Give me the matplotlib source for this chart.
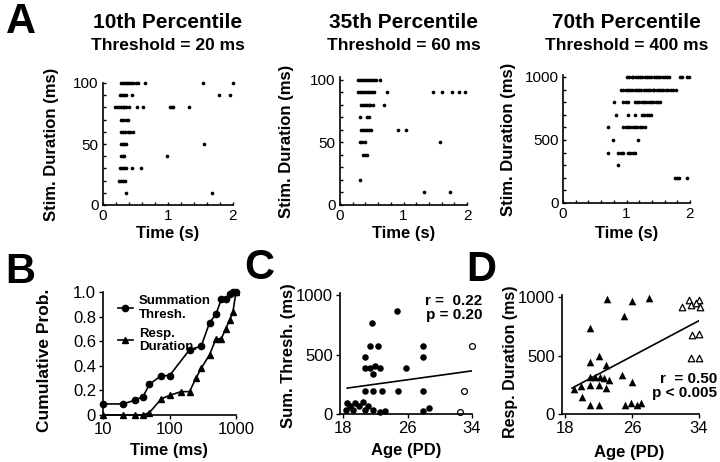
import numpy as np
import matplotlib
matplotlib.use('Agg')
import matplotlib.pyplot as plt
from matplotlib.ticker import FixedLocator, MultipleLocator, NullFormatter

plt.rcParams['font.family'] = ['Liberation Sans', 'DejaVu Sans']

# --- panel A raster data: stimulus duration row -> response times (s)
a1_rows = {
    100: [0.28, 0.31, 0.34, 0.37, 0.40, 0.43, 0.46, 0.50, 0.54, 0.64, 1.54, 2.0],
    90: [0.26, 0.29, 0.33, 0.36, 0.44, 1.79, 1.96],
    80: [0.18, 0.21, 0.24, 0.27, 0.30, 0.33, 0.36, 0.40, 0.52, 0.61, 1.03, 1.06, 1.08, 1.33],
    70: [0.28, 0.31, 0.35, 0.38],
    60: [0.28, 0.31, 0.34, 0.38, 0.42, 0.46],
    50: [0.27, 0.30, 0.33, 0.36, 1.55],
    40: [0.27, 0.30, 0.33, 0.99],
    30: [0.26, 0.29, 0.33, 0.36, 0.44, 0.58],
    20: [0.25, 0.28, 0.31, 0.34],
    10: [0.35, 1.68],
}
a2_rows = {
    100: [0.29, 0.32, 0.35, 0.38, 0.41, 0.44, 0.47, 0.50, 0.53, 0.56, 0.63],
    90: [0.29, 0.32, 0.35, 0.38, 0.41, 0.44, 0.47, 0.50, 0.54, 0.74, 1.46, 1.61, 1.77, 1.87, 1.97],
    80: [0.33, 0.36, 0.39, 0.42, 0.45, 0.48, 0.52, 0.69],
    70: [0.32, 0.42, 0.45],
    60: [0.33, 0.36, 0.39, 0.42, 0.45, 0.49, 0.91, 1.04],
    50: [0.32, 0.35, 0.40, 1.58],
    40: [0.37, 0.39, 0.42],
    20: [0.32],
    10: [1.32, 1.73],
}
a3_rows = {
    1000: [1.01, 1.04, 1.08, 1.11, 1.15, 1.18, 1.22, 1.25, 1.29, 1.32, 1.36, 1.39, 1.43, 1.46,
           1.50, 1.53, 1.57, 1.60, 1.64, 1.67, 1.84, 1.88, 1.95, 1.99],
    900: [0.92, 0.95, 0.99, 1.02, 1.06, 1.09, 1.13, 1.16, 1.20, 1.23, 1.27, 1.30, 1.34, 1.37,
          1.41, 1.44, 1.48, 1.51, 1.55, 1.58, 1.62, 1.66, 1.70, 1.74, 1.78],
    800: [0.81, 0.95, 0.99, 1.03, 1.13, 1.17, 1.20, 1.24, 1.28, 1.31, 1.35, 1.39, 1.42, 1.46, 1.50, 1.53],
    700: [0.84, 1.03, 1.13, 1.24, 1.28, 1.32, 1.36, 1.39],
    600: [0.71, 0.95, 0.99, 1.03, 1.06, 1.10, 1.13, 1.17, 1.21, 1.25, 1.29],
    500: [0.79, 1.18],
    400: [0.71, 0.87, 0.91, 0.95, 1.03, 1.06, 1.10, 1.13],
    300: [0.86],
    200: [1.76, 1.79, 1.82, 1.96],
}
a_titles = ['10th Percentile', '35th Percentile', '70th Percentile']
a_thresh = ['Threshold = 20 ms', 'Threshold = 60 ms', 'Threshold = 400 ms']

# --- panel B cumulative distributions
b_time = [10, 20, 30, 40, 50, 75, 100, 200, 300, 400, 500, 600, 700, 800, 900, 1000]
b_sum = [0.09, 0.09, 0.12, 0.15, 0.25, 0.32, 0.32, 0.53, 0.56, 0.75, 0.82, 0.94, 0.94, 0.98, 1.0, 1.0]
b_resp_time = [10, 20, 30, 40, 50, 75, 100, 150, 200, 250, 300, 400, 500, 600, 700, 800, 900, 1000]
b_resp = [0, 0, 0, 0, 0.02, 0.13, 0.16, 0.19, 0.19, 0.30, 0.38, 0.49, 0.62, 0.62, 0.70, 0.77, 0.84, 1.0]

# --- panel C summation threshold vs age
c_age = [18.5, 19.5, 20.5, 18.8, 19.9, 21.1, 18.4, 19.2, 20.7, 21.7, 22.6, 23.2,
         20.7, 21.7, 22.8, 24.8, 20.7, 20.7, 21.3, 21.95, 22.55, 21.7, 21.3, 22.3,
         21.6, 24.7, 25.8, 27.9, 27.9, 27.9, 27.9, 28.6]
c_thr = [92, 92, 100, 64, 64, 70, 30, 30, 36, 30, 13, 22,
         190, 190, 190, 190, 478, 386, 386, 405, 386, 335, 573, 573,
         768, 868, 386, 573, 478, 190, 22, 50]
c_open_age = [34.0, 33.05, 32.5]
c_open_thr = [573, 190, 13]
c_fit_x = [18.5, 34]
c_fit_y = [218, 363]

# --- panel D response duration vs age
d_age = [19.0, 19.9, 20.0, 20.9, 20.9, 21.0, 21.0, 21.0, 21.6, 22.0, 22.0, 22.0, 22.2,
         22.6, 22.9, 22.9, 23.0, 23.2, 25.0, 24.8, 25.2, 25.8, 26.0, 26.0, 26.6, 27.0, 28.0]
d_dur = [211, 240, 148, 734, 449, 320, 249, 77, 320, 497, 249, 77, 320,
         306, 420, 220, 983, 291, 840, 334, 77, 92, 971, 277, 77, 97, 991]
d_open_age = [32.8, 34.0, 32.0, 33.0, 33.6, 34.1, 33.2, 34.0, 33.0, 34.0]
d_open_dur = [977, 977, 920, 935, 950, 920, 680, 690, 477, 477]
d_fit_x = [18.8, 34]
d_fit_y = [222, 800]

W, H = 720, 462
fig = plt.figure(figsize=(W / 100, H / 100), dpi=100)


def add_ax(l, t, r, b):
    ax = fig.add_axes([l / W, 1 - b / H, (r - l) / W, (b - t) / H])
    for s in ['top', 'right']:
        ax.spines[s].set_visible(False)
    for s in ['left', 'bottom']:
        ax.spines[s].set_linewidth(1.2)
    return ax


def ftext(x, y, s, **kw):
    fig.text(x / W, 1 - y / H, s, **kw)


# panel A
a_boxes = [(103, 83, 233, 205), (340, 77, 467, 205), (563, 75, 690, 203)]
a_data = [a1_rows, a2_rows, a3_rows]
a_ymax = [100, 102, 1015]
a_ystep = [(50, 10), (50, 10), (500, 100)]
a_ylab_x = [52, 287, 509]
for i in range(3):
    ax = add_ax(*a_boxes[i])
    rows = a_data[i]
    for yv, ts in rows.items():
        ax.scatter(ts, [yv] * len(ts), s=7, c='black', linewidths=0, clip_on=False)
    ax.set_xlim(0, 2)
    ax.set_ylim(0, a_ymax[i])
    ax.xaxis.set_major_locator(FixedLocator([0, 1, 2]))
    ax.xaxis.set_minor_locator(MultipleLocator(0.2))
    ax.yaxis.set_major_locator(FixedLocator([0, a_ystep[i][0], 2 * a_ystep[i][0]]))
    ax.yaxis.set_minor_locator(MultipleLocator(a_ystep[i][1]))
    ax.tick_params(which='both', direction='in', length=2, width=1, labelsize=11, pad=3)
    l, t, r, b = a_boxes[i]
    cx = (l + r) / 2
    ftext(cx, 28, a_titles[i], fontsize=15, fontweight='bold', ha='center', va='baseline')
    ftext(cx, 50, a_thresh[i], fontsize=12.5, fontweight='bold', ha='center', va='baseline')
    ftext(cx, 234, 'Time (s)', fontsize=12, fontweight='bold', ha='center', va='center')
    ftext(a_ylab_x[i], (t + b) / 2, 'Stim. Duration (ms)', fontsize=12, fontweight='bold',
          ha='center', va='center', rotation=90)

ftext(6, 33, 'A', fontsize=30, fontweight='bold', va='baseline')

# panel B
ax = add_ax(103, 292, 236, 415)
ax.plot(b_time, b_sum, '-o', color='black', lw=1.2, ms=4.5, clip_on=False, label='Summation\nThresh.')
ax.plot(b_resp_time, b_resp, '-^', color='black', lw=1.2, ms=5, clip_on=False, label='Resp.\nDuration.')
ax.set_xscale('log')
ax.set_xlim(10, 1000)
ax.set_ylim(0, 1.0)
ax.xaxis.set_major_locator(FixedLocator([10, 100, 1000]))
ax.xaxis.set_major_formatter(plt.FixedFormatter(['10', '100', '1000']))
ax.xaxis.set_minor_formatter(NullFormatter())
ax.set_yticks([0, 0.2, 0.4, 0.6, 0.8, 1.0])
ax.set_yticklabels(['0', '0.2', '0.4', '0.6', '0.8', '1.0'])
ax.tick_params(which='major', direction='out', length=3, width=1, labelsize=12, pad=2)
ax.tick_params(which='minor', direction='out', length=0)
ax.legend(loc='upper left', bbox_to_anchor=(0.02, 1.07), frameon=False, handlelength=1.2,
          handletextpad=0.4, labelspacing=0.5, prop={'weight': 'bold', 'size': 9.5})
ftext(169, 451, 'Time (ms)', fontsize=12, fontweight='bold', ha='center', va='center')
ftext(45, 360, 'Cumulative Prob.', fontsize=12.5, fontweight='bold', ha='center', va='center', rotation=90)
ftext(5, 283, 'B', fontsize=30, fontweight='bold', va='baseline')

# panel C
ax = add_ax(340, 293, 472, 414)
ax.scatter(c_age, c_thr, s=22, c='black', linewidths=0, clip_on=False)
ax.scatter(c_open_age, c_open_thr, s=18, facecolors='white', edgecolors='black', linewidths=0.9, clip_on=False)
ax.plot(c_fit_x, c_fit_y, color='black', lw=1.2)
ax.set_xlim(17.6, 34)
ax.set_ylim(0, 1018)
ax.set_xticks([18, 26, 34])
ax.set_yticks([0, 500, 1000])
ax.tick_params(direction='out', length=3, width=1, labelsize=12, pad=2)
ax.text(1.08, 0.99, 'r =  0.22\np = 0.20', transform=ax.transAxes, ha='right', va='top',
        fontsize=11, fontweight='bold', linespacing=1.0)
ftext(406, 451, 'Age (PD)', fontsize=12, fontweight='bold', ha='center', va='center')
ftext(289, 356, 'Sum. Thresh. (ms)', fontsize=12, fontweight='bold', ha='center', va='center', rotation=90)
ftext(244, 279, 'C', fontsize=30, fontweight='bold', va='baseline')

# panel D
ax = add_ax(562, 295, 699, 414)
ax.scatter(d_age, d_dur, s=30, c='black', marker='^', linewidths=0, clip_on=False)
ax.scatter(d_open_age, d_open_dur, s=22, marker='^', facecolors='white', edgecolors='black',
           linewidths=0.9, clip_on=False)
ax.plot(d_fit_x, d_fit_y, color='black', lw=1.2)
ax.set_xlim(17.6, 34)
ax.set_ylim(0, 1020)
ax.set_xticks([18, 26, 34])
ax.set_yticks([0, 500, 1000])
ax.tick_params(direction='out', length=3, width=1, labelsize=12, pad=2)
ax.text(1.13, 0.35, 'r  = 0.50\np < 0.005', transform=ax.transAxes, ha='right', va='top',
        fontsize=11, fontweight='bold', linespacing=1.0)
ftext(629, 453, 'Age (PD)', fontsize=12, fontweight='bold', ha='center', va='center')
ftext(511, 362, 'Resp. Duration (ms)', fontsize=11.5, fontweight='bold', ha='center', va='center', rotation=90)
ftext(466, 281, 'D', fontsize=30, fontweight='bold', va='baseline')

fig.savefig('out.png', dpi=100)
